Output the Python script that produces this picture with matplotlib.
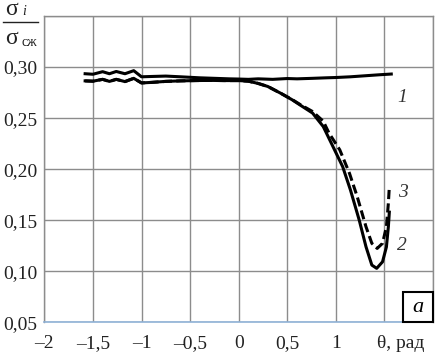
"""Stress ratio sigma_i / sigma_sj versus angle theta, curves 1-3, panel (a)."""
import matplotlib
matplotlib.use("Agg")
import matplotlib.pyplot as plt
from matplotlib.lines import Line2D
from matplotlib.patches import Rectangle

plt.rcParams["font.family"] = ["Liberation Serif", "DejaVu Serif"]

# curve 1 (upper, almost flat)
theta1 = [-1.58, -1.50, -1.40, -1.33, -1.26, -1.17, -1.08, -1.00, -0.90, -0.75,
          -0.60, -0.50, -0.40, -0.25, -0.10, 0.00, 0.10, 0.20, 0.35, 0.50,
          0.60, 0.76, 0.90, 1.00, 1.15, 1.30, 1.45, 1.57]
sigma1 = [0.2935, 0.2930, 0.2955, 0.2935, 0.2957, 0.2935, 0.2965, 0.2905, 0.2908, 0.2912,
          0.2905, 0.2900, 0.2895, 0.2890, 0.2885, 0.2883, 0.2880, 0.2885, 0.2880, 0.2888,
          0.2885, 0.2890, 0.2895, 0.2898, 0.2905, 0.2915, 0.2925, 0.2932]

# curve 2 (solid, deep minimum)
theta2 = [-1.58, -1.50, -1.40, -1.33, -1.26, -1.17, -1.08, -1.00, -0.90, -0.75,
          -0.60, -0.45, -0.30, -0.15, 0.00, 0.10, 0.20, 0.30, 0.43, 0.55,
          0.63, 0.76, 0.87, 0.97, 1.07, 1.15, 1.24, 1.31, 1.37, 1.42,
          1.48, 1.52, 1.54, 1.55]
sigma2 = [0.2865, 0.2862, 0.2880, 0.2860, 0.2880, 0.2858, 0.2890, 0.2845, 0.2850, 0.2860,
          0.2865, 0.2868, 0.2870, 0.2868, 0.2868, 0.2862, 0.2840, 0.2810, 0.2745, 0.2680,
          0.2630, 0.2550, 0.2418, 0.2222, 0.2025, 0.1797, 0.1503, 0.1241, 0.1062, 0.1030,
          0.1094, 0.1240, 0.1437, 0.1580]

# curve 3 (dashed)
theta3 = [-1.58, -1.50, -1.40, -1.33, -1.26, -1.17, -1.08, -1.00, -0.90, -0.75,
          -0.60, -0.45, -0.30, -0.15, 0.00, 0.10, 0.20, 0.30, 0.43, 0.55,
          0.63, 0.76, 0.87, 0.93, 1.04, 1.14, 1.22, 1.31, 1.37, 1.425,
          1.48, 1.52, 1.54, 1.55]
sigma3 = [0.2865, 0.2862, 0.2880, 0.2860, 0.2880, 0.2858, 0.2890, 0.2845, 0.2850, 0.2860,
          0.2865, 0.2868, 0.2870, 0.2868, 0.2868, 0.2862, 0.2840, 0.2810, 0.2745, 0.2682,
          0.2635, 0.2565, 0.2470, 0.2353, 0.2190, 0.1960, 0.1730, 0.1437, 0.1275, 0.1225,
          0.1275, 0.1437, 0.1667, 0.1830]

x_ticks = [-2, -1.5, -1, -0.5, 0, 0.5, 1, 1.5, 2]
x_labels = ["–2", "–1,5", "–1", "–0,5", "0", "0,5", "1", "", ""]
y_ticks = [0.05, 0.10, 0.15, 0.20, 0.25, 0.30, 0.35]
y_labels = ["0,05", "0,10", "0,15", "0,20", "0,25", "0,30", ""]

curve_labels = ["1", "2", "3"]
label_pos = [(1.68, 0.270), (1.68, 0.125), (1.69, 0.177)]

fig = plt.figure(figsize=(4.37, 3.59), dpi=100)
ax = fig.add_axes([0.1014, 0.1017, 0.8896, 0.8537])

ax.plot(theta1, sigma1, color="black", lw=2.2, solid_joinstyle="round")
ax.plot(theta2, sigma2, color="black", lw=2.2, solid_joinstyle="round")
ax.plot(theta3, sigma3, color="black", lw=2.2, linestyle=(0, (3, 1.4)))

ax.set_xlim(-2, 2)
ax.set_ylim(0.05, 0.35)
ax.set_xticks(x_ticks)
ax.set_xticklabels(x_labels)
ax.set_yticks(y_ticks)
ax.set_yticklabels(y_labels)
ax.tick_params(length=0, labelsize=14, colors="#222222")
ax.tick_params(axis="x", pad=9)
ax.tick_params(axis="y", pad=5)
ax.grid(True, color="#8c8c8c", lw=1.0)
ax.set_axisbelow(True)
for side in ["top", "left", "right"]:
    ax.spines[side].set_color("#8c8c8c")
    ax.spines[side].set_linewidth(1.0)
ax.spines["bottom"].set_color("#8fb1d6")
ax.spines["bottom"].set_linewidth(1.2)

# axis name in place of the 1,5 tick
ax.text(1.42, -0.041, "θ, рад", transform=ax.get_xaxis_transform(),
        ha="left", va="top", fontsize=14, color="#222222")

for lab, (lx, ly) in zip(curve_labels, label_pos):
    ax.text(lx, ly, lab, fontsize=14, style="italic", color="#333333",
            ha="center", va="center")

# panel letter box
ax.add_patch(Rectangle((0.922, 0.0), 0.078, 0.098, transform=ax.transAxes,
                       facecolor="white", edgecolor="black", lw=1.5, zorder=5,
                       clip_on=False))
ax.text(0.961, 0.049, "а", transform=ax.transAxes, fontsize=16, style="italic",
        ha="center", va="center", zorder=6)

# y-axis name as a fraction sigma_i / sigma_sj
W, H = 437, 359
fig.text(5 / W, 1 - 15 / H, "σ", fontsize=17, va="baseline", color="#222222")
fig.text(22 / W, 1 - 15 / H, "i", fontsize=10, style="italic", va="baseline",
         color="#222222")
fig.add_artist(Line2D([3 / W, 38 / W], [1 - 21.5 / H, 1 - 21.5 / H],
                      color="#222222", lw=1.0, transform=fig.transFigure))
fig.text(5 / W, 1 - 44 / H, "σ", fontsize=17, va="baseline", color="#222222")
fig.text(22 / W, 1 - 46 / H, "сж", fontsize=10, va="baseline", color="#222222")

fig.savefig("out.png", dpi=100)
